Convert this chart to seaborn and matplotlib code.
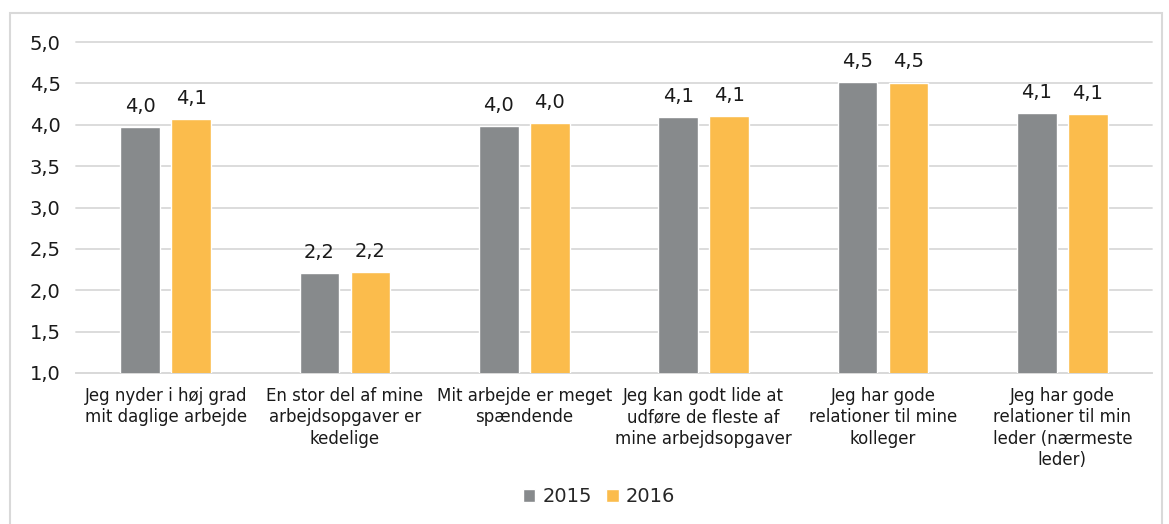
import numpy as np
import pandas as pd
import matplotlib
matplotlib.use("Agg")
import matplotlib.pyplot as plt
import seaborn as sns
from matplotlib.patches import Rectangle

categories = [
    "Jeg nyder i høj grad\nmit daglige arbejde",
    "En stor del af mine\narbejdsopgaver er\nkedelige",
    "Mit arbejde er meget\nspændende",
    "Jeg kan godt lide at\nudføre de fleste af\nmine arbejdsopgaver",
    "Jeg har gode\nrelationer til mine\nkolleger",
    "Jeg har gode\nrelationer til min\nleder (nærmeste\nleder)",
]
years = ["2015", "2016"]
values_2015 = [3.97, 2.21, 3.98, 4.09, 4.52, 4.14]
values_2016 = [4.07, 2.22, 4.02, 4.11, 4.51, 4.13]
colors = ["#878a8c", "#fbbc4c"]

df = pd.DataFrame({
    "cat": categories * 2,
    "year": [years[0]] * 6 + [years[1]] * 6,
    "value": values_2015 + values_2016,
})

sns.set_theme(style="white")
plt.rcParams['font.family'] = ['DejaVu Sans']
txt = "#1a1a1a"

fig = plt.figure(figsize=(11.69, 5.24), dpi=100)
ax = fig.add_axes([76 / 1169, 1 - 373 / 524, (1152 - 76) / 1169, (373 - 42) / 524])

sns.barplot(data=df, x="cat", y="value", hue="year", palette=colors,
            saturation=1, width=0.57, gap=0.22, ax=ax, legend=True, zorder=3)

ax.set_ylim(1.0, 5.0)
ticks = np.arange(1.0, 5.01, 0.5)
ax.set_yticks(ticks)
ax.set_yticklabels([f"{t:.1f}".replace(".", ",") for t in ticks], fontsize=14, color=txt)
ax.tick_params(axis="y", length=0, pad=11)
ax.tick_params(axis="x", length=0, pad=10)
ax.set_xticks(range(len(categories)))
ax.set_xticklabels(categories, fontsize=12, color=txt, linespacing=1.24)
ax.grid(axis="y", color="#d9d9d9", linewidth=1.3, zorder=0)
for gl in ax.get_ygridlines():
    gl.set_clip_on(False)
ax.set_axisbelow(True)
for s in ["top", "right", "left"]:
    ax.spines[s].set_visible(False)
ax.spines["bottom"].set_color("#d9d9d9")
ax.spines["bottom"].set_linewidth(1.3)
ax.set_xlabel("")
ax.set_ylabel("")

for cont in ax.containers:
    labels = [f"{b.get_height():.1f}".replace(".", ",") for b in cont]
    ax.bar_label(cont, labels=labels, padding=8, fontsize=14, color=txt)

handles, labs = ax.get_legend_handles_labels()
ax.legend(handles, labs, loc="center", bbox_to_anchor=(599 / 1169, 1 - 497 / 524),
          bbox_transform=fig.transFigure, ncol=2, frameon=False, fontsize=14,
          handlelength=0.65, handleheight=0.65, handletextpad=0.35, columnspacing=0.75)

fig.patches.append(Rectangle((10 / 1169, -0.05), 1152 / 1169, 1 - 13 / 524 + 0.05,
                             transform=fig.transFigure, fill=False,
                             edgecolor="#d9d9d9", linewidth=1.5))

fig.savefig("out.png", dpi=100)
